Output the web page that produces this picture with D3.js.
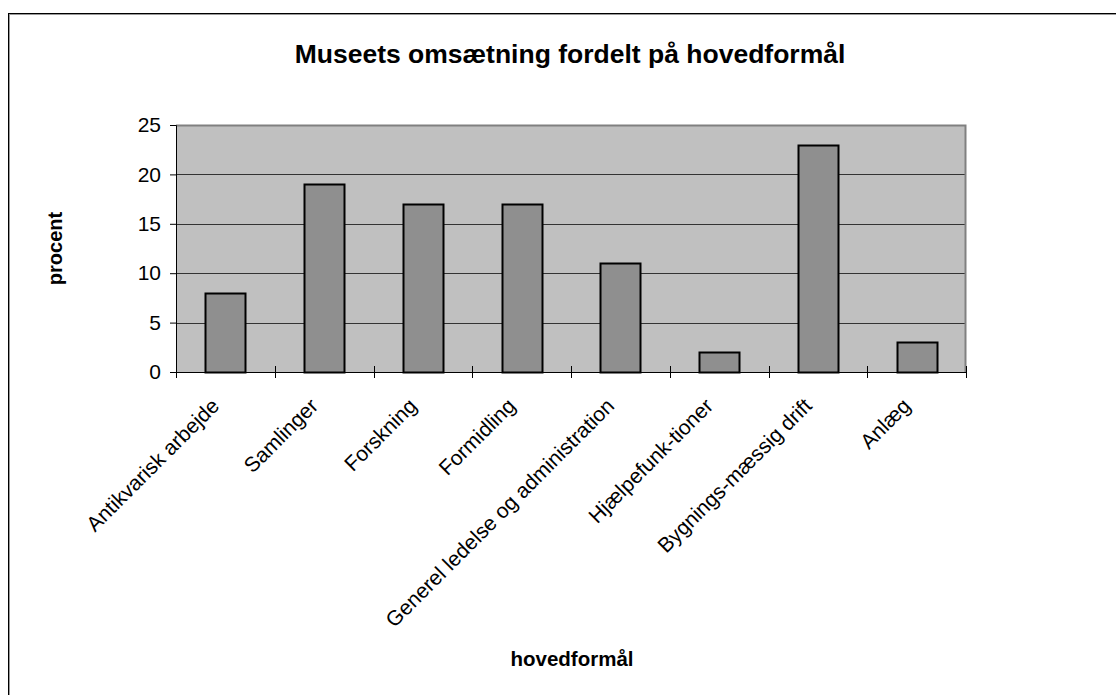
<!DOCTYPE html>
<html>
<head>
<meta charset="utf-8">
<script src="https://cdn.jsdelivr.net/npm/d3@7"></script>
<style>
  body { margin: 0; background: #fff; }
  svg { display: block; font-family: "Liberation Sans", Arial, sans-serif; }
</style>
</head>
<body>
<script>
// data
const categories = ["Antikvarisk arbejde", "Samlinger", "Forskning", "Formidling",
  "Generel ledelse og administration", "Hjælpefunk-tioner", "Bygnings-mæssig drift", "Anlæg"];
const values = [8, 19, 17, 17, 11, 2, 23, 3];
const yTicks = [0, 5, 10, 15, 20, 25];

const width = 1116, height = 695;
const margin = { top: 125, right: 150, bottom: 323, left: 176 };
const innerW = width - margin.left - margin.right;
const innerH = height - margin.top - margin.bottom;

const svg = d3.select("body").append("svg")
  .attr("width", width)
  .attr("height", height);

// outer frame (runs off the window on right/bottom)
svg.append("rect")
  .attr("x", 9.5).attr("y", 14.5)
  .attr("width", width + 20).attr("height", height + 20)
  .attr("fill", "none").attr("stroke", "#999").attr("stroke-width", 1);
svg.append("rect")
  .attr("x", 8.5).attr("y", 13.5)
  .attr("width", width + 20).attr("height", height + 20)
  .attr("fill", "none").attr("stroke", "#000").attr("stroke-width", 1);

svg.append("text")
  .attr("x", margin.left + innerW / 2 - 1).attr("y", 63)
  .attr("text-anchor", "middle")
  .style("font-size", "26.5px").style("font-weight", "bold")
  .text("Museets omsætning fordelt på hovedformål");

const g = svg.append("g").attr("transform", `translate(${margin.left},${margin.top})`);

const x = d3.scaleBand().domain(categories).range([0, innerW]).paddingInner(0).paddingOuter(0);
const y = d3.scaleLinear().domain([0, 25]).range([innerH, 0]);

// plot background
g.append("rect")
  .attr("width", innerW).attr("height", innerH)
  .attr("fill", "#c0c0c0");

// gridlines
g.append("g").selectAll("line")
  .data(yTicks.filter(d => d > 0 && d < 25))
  .join("line")
  .attr("x1", 0).attr("x2", innerW)
  .attr("y1", d => Math.round(y(d)) + 0.5).attr("y2", d => Math.round(y(d)) + 0.5)
  .attr("stroke", "#333").attr("stroke-width", 1);

// top and right border of plot area
g.append("path")
  .attr("d", `M0,${0.5}H${innerW - 0.5}V${innerH}`)
  .attr("fill", "none").attr("stroke", "#808080").attr("stroke-width", 2);

// bars
const barW = x.bandwidth() * 0.405;
g.append("g").selectAll("rect")
  .data(values)
  .join("rect")
  .attr("x", (d, i) => Math.round(x(categories[i]) + x.bandwidth() / 2 - barW / 2) + 0.5)
  .attr("y", d => Math.round(y(d)) + 0.5)
  .attr("width", Math.round(barW))
  .attr("height", d => Math.round(innerH - y(d)))
  .attr("fill", "#8f8f8f")
  .attr("stroke", "#000")
  .attr("stroke-width", 2);

// y axis
const yAxis = g.append("g")
  .call(d3.axisLeft(y).tickValues(yTicks).tickSize(6).tickPadding(9));
yAxis.select(".domain").attr("stroke", "#000");
yAxis.selectAll("text").style("font-size", "21px").attr("fill", "#000");

// x axis with ticks crossing the axis
const xAxisG = g.append("g").attr("transform", `translate(0,${innerH})`);
xAxisG.append("line")
  .attr("x1", 0).attr("x2", innerW).attr("y1", 0.5).attr("y2", 0.5)
  .attr("stroke", "#000");
const tickPos = categories.map(c => x(c)).concat([innerW]);
xAxisG.selectAll("line.tick")
  .data(tickPos)
  .join("line")
  .attr("class", "tick")
  .attr("x1", d => Math.round(d) + 0.5).attr("x2", d => Math.round(d) + 0.5)
  .attr("y1", -6).attr("y2", 6)
  .attr("stroke", "#000");

xAxisG.selectAll("text.cat")
  .data(categories)
  .join("text")
  .attr("class", "cat")
  .attr("transform", d => `translate(${x(d) + x.bandwidth() / 2 - 10},${30}) rotate(-45)`)
  .attr("text-anchor", "end")
  .attr("dy", "0.35em")
  .style("font-size", "21px")
  .text(d => d);

// axis titles
svg.append("text")
  .attr("transform", `translate(62,${margin.top + innerH / 2}) rotate(-90)`)
  .attr("text-anchor", "middle")
  .style("font-size", "20px").style("font-weight", "bold")
  .text("procent");

svg.append("text")
  .attr("x", margin.left + innerW / 2 + 1).attr("y", 666)
  .attr("text-anchor", "middle")
  .style("font-size", "20.5px").style("font-weight", "bold")
  .text("hovedformål");
</script>
</body>
</html>
